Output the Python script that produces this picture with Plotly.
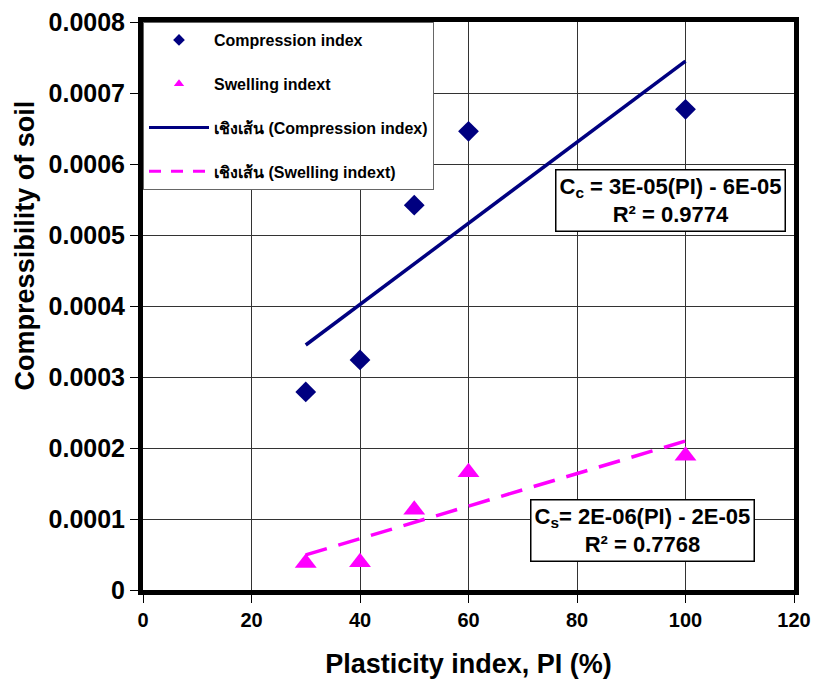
import numpy as np
import plotly.graph_objects as go

pi_vals = [30, 40, 50, 60, 100]
compression = [0.000279, 0.000324, 0.000542, 0.000646, 0.000677]
swelling = [0.000038, 0.000039, 0.000113, 0.000166, 0.000189]
y_ticks = [0, 0.0001, 0.0002, 0.0003, 0.0004, 0.0005, 0.0006, 0.0007, 0.0008]
y_tick_text = ["0", "0.0001", "0.0002", "0.0003", "0.0004", "0.0005", "0.0006", "0.0007", "0.0008"]
x_ticks = [0, 20, 40, 60, 80, 100, 120]

FONT = "Liberation Sans, Arial, sans-serif"
NAVY = "#000080"
MAG = "#FF00FF"

xs = np.array(pi_vals, dtype=float)
fit_x = [min(pi_vals), max(pi_vals)]
cc = np.polyfit(xs, compression, 1)
cs = np.polyfit(xs, swelling, 1)

fig = go.Figure()
# data traces (legend handled by small legend-only entries)
fig.add_trace(go.Scatter(x=pi_vals, y=compression, mode="markers", showlegend=False,
                         marker=dict(symbol="diamond", size=16, color=NAVY)))
fig.add_trace(go.Scatter(x=pi_vals, y=swelling, mode="markers", showlegend=False,
                         marker=dict(symbol="triangle-up", size=19, color=MAG)))
fig.add_trace(go.Scatter(x=fit_x, y=list(np.polyval(cc, fit_x)), mode="lines", showlegend=False,
                         line=dict(color=NAVY, width=3.5)))
fig.add_trace(go.Scatter(x=fit_x, y=list(np.polyval(cs, fit_x)), mode="lines", showlegend=False,
                         line=dict(color=MAG, width=3.5, dash="22px,12px")))

# legend entries
fig.add_trace(go.Scatter(x=[None], y=[None], mode="markers", name="<b>Compression index</b>",
                         legendgroup="a", marker=dict(symbol="diamond", size=9, color=NAVY)))
fig.add_trace(go.Scatter(x=[None], y=[None], mode="markers", name="<b>Swelling indext</b>",
                         legendgroup="b", marker=dict(symbol="triangle-up", size=9, color=MAG)))
fig.add_trace(go.Scatter(x=[None], y=[None], mode="lines",
                         name="<b>เชิงเส้น (Compression index)</b>", legendgroup="c",
                         line=dict(color=NAVY, width=3)))
fig.add_trace(go.Scatter(x=[None], y=[None], mode="lines",
                         name="<b>เชิงเส้น (Swelling indext)</b>", legendgroup="d",
                         line=dict(color=MAG, width=3, dash="12px,10px")))

fig.add_annotation(x=0.81, y=0.685, xref="paper", yref="paper", xanchor="center", yanchor="middle",
                   text="<b>C<sub>c</sub> = 3E-05(PI) - 6E-05<br>R² = 0.9774</b>",
                   showarrow=False, align="center",
                   font=dict(family=FONT, size=22, color="black"),
                   bgcolor="white", bordercolor="black", borderwidth=1.5, borderpad=3)
fig.add_annotation(x=0.767, y=0.104, xref="paper", yref="paper", xanchor="center", yanchor="middle",
                   text="<b>C<sub>s</sub>= 2E-06(PI) - 2E-05<br>R² = 0.7768</b>",
                   showarrow=False, align="center",
                   font=dict(family=FONT, size=22, color="black"),
                   bgcolor="white", bordercolor="black", borderwidth=1.5, borderpad=3)
# y-axis title (placed above centre as in the reference)
fig.add_annotation(x=-0.181, y=0.607, xref="paper", yref="paper", xanchor="center", yanchor="middle",
                   text="<b>Compressibility of soil</b>", textangle=-90, showarrow=False,
                   font=dict(family=FONT, size=27, color="black"))

fig.update_layout(
    width=811, height=676,
    margin=dict(l=135, r=25, t=14, b=94),
    plot_bgcolor="white", paper_bgcolor="white",
    font=dict(family=FONT, color="black"),
    showlegend=True,
    legend=dict(x=0.0, y=1.0, xanchor="left", yanchor="top",
                bgcolor="white", bordercolor="#666666", borderwidth=1,
                font=dict(family=FONT, size=16, color="black"),
                tracegroupgap=20, itemwidth=60),
    xaxis=dict(range=[0, 120], tickvals=x_ticks, ticktext=[f"<b>{t}</b>" for t in x_ticks],
               automargin=False, ticklabeloverflow="allow",
               showgrid=True, gridcolor="#333333",
               gridwidth=1, zeroline=False, showline=True, linecolor="black", linewidth=5,
               mirror=True, ticks="outside", ticklen=8, tickcolor="black",
               tickfont=dict(family=FONT, size=20, color="black"),
               title=dict(text="<b>Plasticity index, PI (%)</b>", standoff=26,
                          font=dict(family=FONT, size=27, color="black"))),
    yaxis=dict(range=[0, 0.0008], tickvals=y_ticks, ticktext=[f"<b>{t}</b>" for t in y_tick_text],
               automargin=False, ticklabeloverflow="allow",
               showgrid=True, gridcolor="#333333", gridwidth=1, zeroline=False,
               showline=True, linecolor="black", linewidth=5, mirror=True,
               ticks="outside", ticklen=8, tickcolor="black",
               tickfont=dict(family=FONT, size=25, color="black")),
)

fig.write_html("out.html")
